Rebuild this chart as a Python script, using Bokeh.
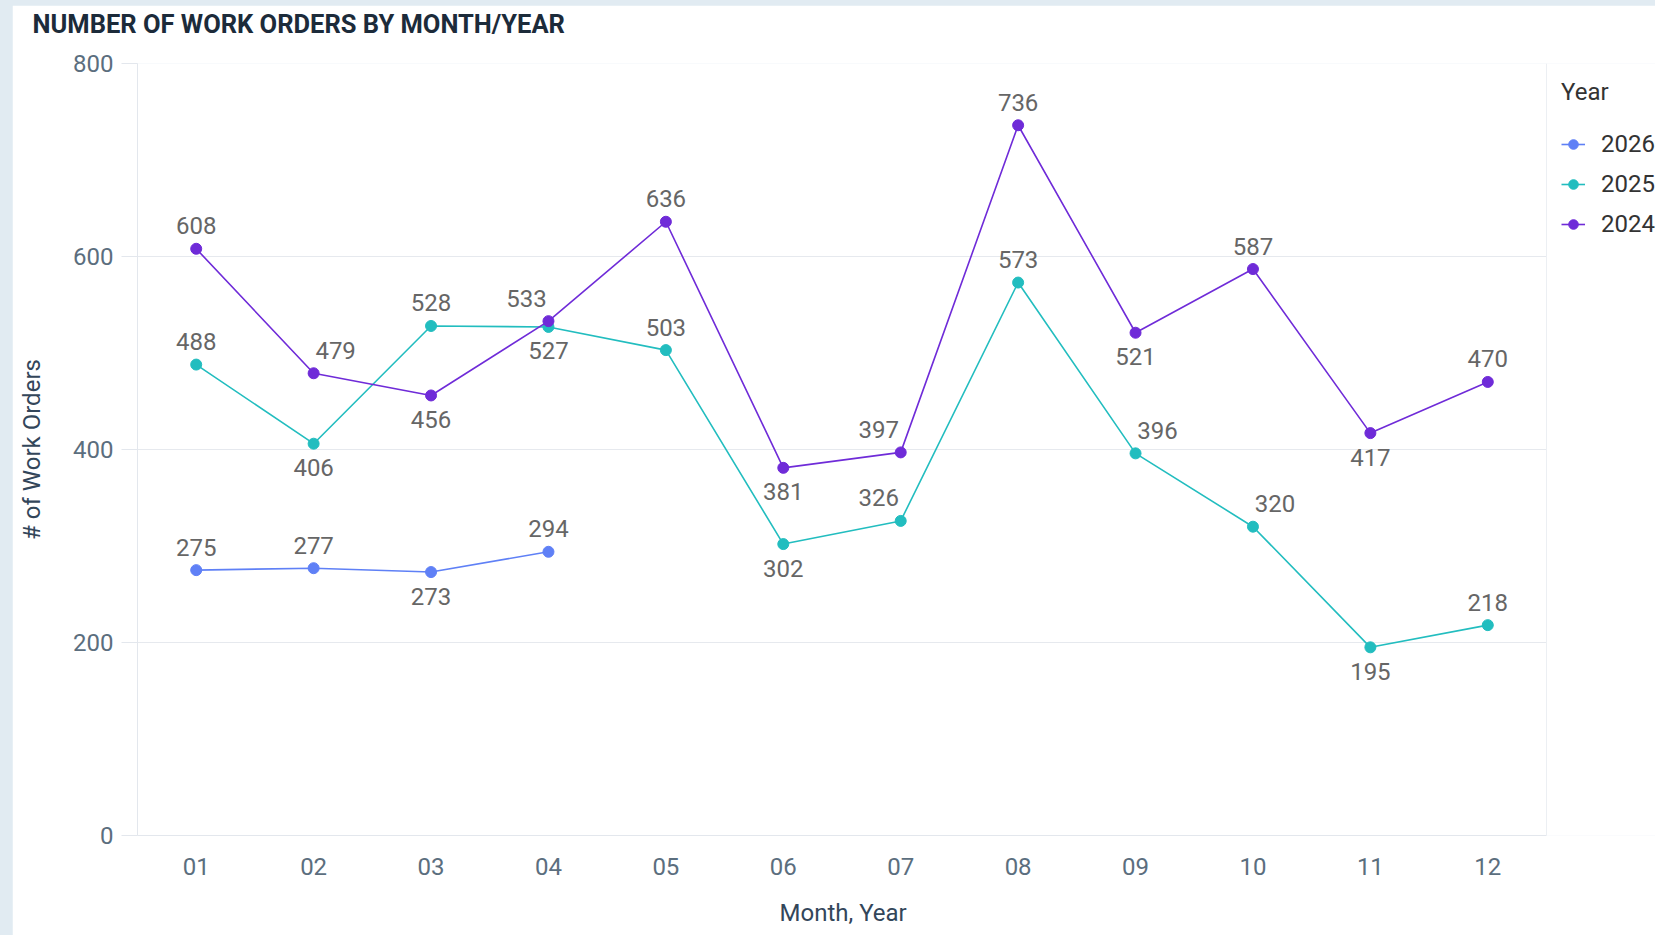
from bokeh.plotting import figure
from bokeh.models import (ColumnDataSource, Range1d, Legend, LegendItem, FixedTicker, Title,
                          BoxAnnotation, Span)
from bokeh.embed import file_html
from bokeh.resources import INLINE
from bokeh.core.properties import value

# ---- data ----
months = ["01", "02", "03", "04", "05", "06", "07", "08", "09", "10", "11", "12"]
years = ["2026", "2025", "2024"]
orders_2026 = [275, 277, 273, 294]
orders_2025 = [488, 406, 528, 527, 503, 302, 326, 573, 396, 320, 195, 218]
orders_2024 = [608, 479, 456, 533, 636, 381, 397, 736, 521, 587, 417, 470]
y_ticks = [0, 200, 400, 600, 800]

# label placement (a=above, b=below, al=above-left, ar=above-right)
place_2026 = ["a", "a", "b", "a"]
place_2025 = ["a", "b", "a", "b", "a", "b", "al", "a", "ar", "ar", "b", "a"]
place_2024 = ["a", "ar", "b", "al", "a", "b", "al", "a", "b", "a", "b", "a"]

colors = {"2026": "#5f80f6", "2025": "#22bdbf", "2024": "#6f2bd8"}
FONT = "Roboto"
FS = "24px"
OFF = {"a": (0, -23), "b": (0, 24), "al": (-22, -23), "ar": (22, -23)}

month_pos = [i + 1 for i in range(len(months))]
n = len(months)
# plot area spans the 12 months; the canvas continues to the right (legend area)
x_lo, x_hi = 0.5, n + 0.5
x_end = x_lo + 1518 / (1409 / n)

p = figure(width=1643, height=930, x_range=Range1d(x_lo, x_end), y_range=Range1d(0, 800),
           output_backend="svg", toolbar_location=None,
           min_border_left=125, min_border_right=0, min_border_top=58, min_border_bottom=100)
p.margin = (5, 0, 0, 12)
p.border_fill_color = "white"
p.background_fill_color = "white"
p.outline_line_color = None

spacer = Title(text=" ", text_font=FONT, text_font_size="17px", standoff=2)
p.add_layout(spacer, "above")
title = Title(text="NUMBER OF WORK ORDERS BY MONTH/YEAR", text_font=FONT, text_font_size="25.5px",
              text_font_style="bold", text_color="#1c2b3a", align="left", vertical_align="middle",
              offset=-105, standoff=0)
p.add_layout(title, "above")

# axes
p.yaxis.ticker = FixedTicker(ticks=y_ticks)
p.yaxis.axis_line_color = "#e3e7ed"
p.yaxis.major_tick_line_color = "#e3e7ed"
p.yaxis.major_tick_out = 16
p.yaxis.major_tick_in = 0
p.yaxis.minor_tick_line_color = None
p.yaxis.major_label_standoff = 8
p.yaxis.major_label_text_font = FONT
p.yaxis.major_label_text_font_size = FS
p.yaxis.major_label_text_color = "#5b6e7e"
p.yaxis.axis_label = "# of Work Orders"
p.yaxis.axis_label_text_font = FONT
p.yaxis.axis_label_text_font_size = FS
p.yaxis.axis_label_text_font_style = "normal"
p.yaxis.axis_label_text_color = "#33465a"
p.yaxis.axis_label_standoff = 24

p.xaxis.ticker = FixedTicker(ticks=month_pos)
p.xaxis.major_label_overrides = {pos: m for pos, m in zip(month_pos, months)}
p.xaxis.bounds = (x_lo, x_hi)
p.xaxis.axis_line_color = "#e3e7ed"
p.xaxis.major_tick_line_color = None
p.xaxis.minor_tick_line_color = None
p.xaxis.major_tick_out = 0
p.xaxis.major_tick_in = 0
p.xaxis.major_label_standoff = 22
p.xaxis.major_label_text_font = FONT
p.xaxis.major_label_text_font_size = FS
p.xaxis.major_label_text_color = "#5b6e7e"

# x-axis title, centred under the plot area (not under the legend strip)
gap_below = Title(text=" ", text_font=FONT, text_font_size="10px", standoff=7)
p.add_layout(gap_below, "below")
x_title = Title(text="Month, Year", text_font=FONT, text_font_size=FS, text_font_style="normal",
                text_color="#33465a", align="left", vertical_align="middle", offset=642, standoff=0)
p.add_layout(x_title, "below")

p.xgrid.grid_line_color = None
p.ygrid.grid_line_color = "#e6e9ee"
p.ygrid.ticker = FixedTicker(ticks=y_ticks)

# blank the legend area to the right of the plot area, and draw the plot area's right edge
p.add_layout(BoxAnnotation(left=x_hi, fill_color="white", fill_alpha=1.0, line_color=None))
p.add_layout(Span(location=x_hi, dimension="height", line_color="#eceff3", line_width=1))

series = [("2026", orders_2026, place_2026), ("2025", orders_2025, place_2025), ("2024", orders_2024, place_2024)]
items = {}
label_sources = []
for yr, vals, place in series:
    xs = month_pos[:len(vals)]
    src = ColumnDataSource(dict(x=xs, y=vals, lbl=[str(v) for v in vals],
                                dx=[OFF[k][0] for k in place], dy=[OFF[k][1] for k in place]))
    ln = p.line("x", "y", source=src, line_color=colors[yr], line_width=1.6)
    sc = p.scatter("x", "y", source=src, size=11, fill_color=colors[yr], line_color=colors[yr])
    items[yr] = [ln, sc]
    label_sources.append(src)

for src in label_sources:
    p.text("x", "y", text="lbl", source=src, x_offset="dx", y_offset="dy",
           text_align="center", text_baseline="middle", text_font=value(FONT),
           text_font_size=FS, text_color="#666666")

legend = Legend(items=[LegendItem(label=yr, renderers=items[yr]) for yr in years],
                location=(1424, 597), title="Year", title_text_font=FONT,
                title_text_font_size=FS, title_text_font_style="normal",
                title_text_color="#333333", title_standoff=24,
                label_text_font=FONT, label_text_font_size=FS, label_text_color="#333333",
                glyph_width=24, glyph_height=24, label_height=24, spacing=12, label_standoff=16,
                padding=10, margin=0, border_line_color=None, background_fill_alpha=0)
p.add_layout(legend, "center")

html = file_html(p, INLINE)
html = html.replace("</head>", "<style>html, body { background: #e1ebf2; }</style></head>", 1)
open("out.html", "w").write(html)
